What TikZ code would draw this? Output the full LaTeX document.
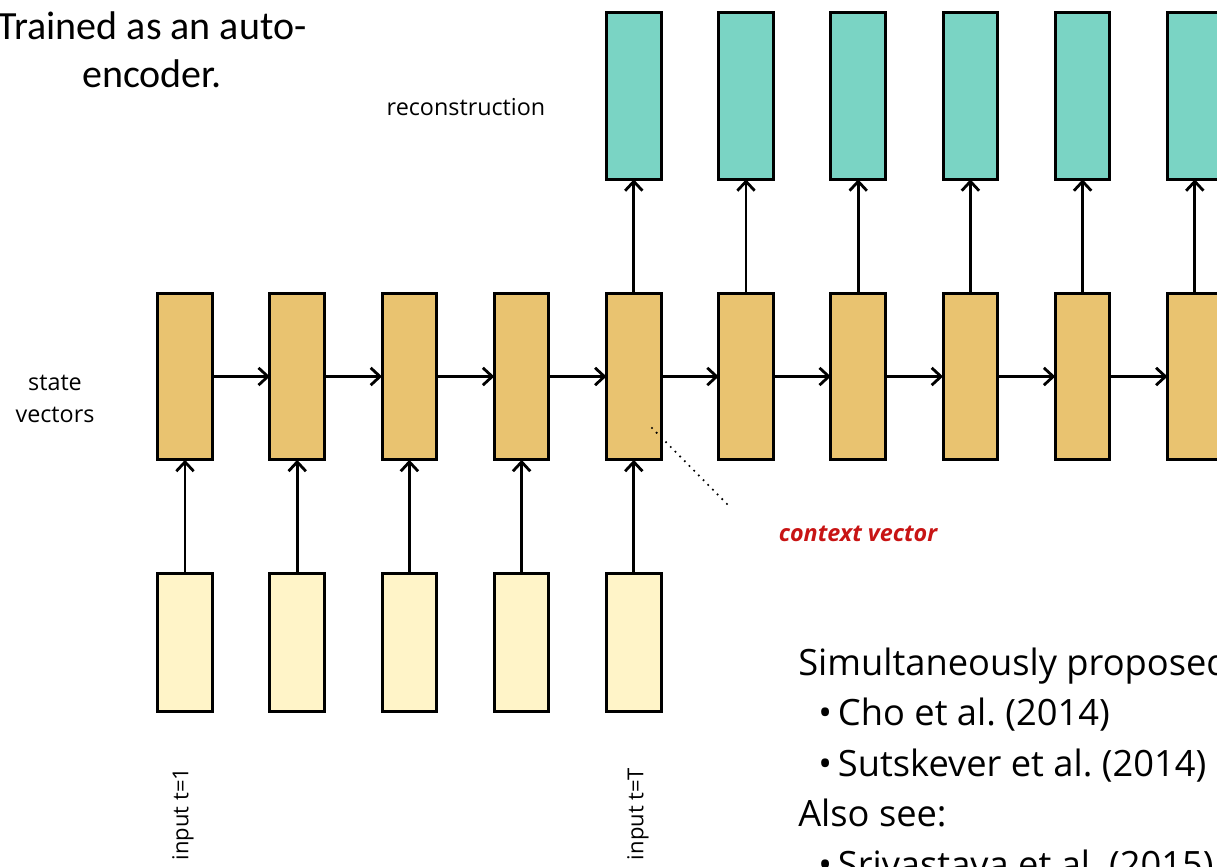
\documentclass[tikz,border=0pt]{standalone}
\usepackage{fontspec}
\setmainfont{Open Sans}
\newfontfamily\calfont{Carlito}
\usetikzlibrary{arrows.meta}
\definecolor{inputfill}{RGB}{255,244,200}
\definecolor{statefill}{RGB}{233,195,112}
\definecolor{reconfill}{RGB}{122,212,196}
\definecolor{ctxred}{RGB}{200,20,20}
\tikzset{
  cell/.style={draw=black, line width=2.2pt, minimum width=41pt, minimum height=#1, inner sep=0pt, outer sep=0pt},
  inbox/.style={cell=104pt, fill=inputfill},
  statebox/.style={cell=125pt, fill=statefill},
  reconbox/.style={cell=125pt, fill=reconfill},
  flow/.style={line width=2.1pt, -{Straight Barb[length=7pt, width=13pt, line width=2.1pt]}},
  small/.style={font=\fontsize{17.5}{20}\selectfont, align=center, inner sep=0pt},
  big/.style={font=\fontsize{27.2}{34}\selectfont, inner sep=0pt, anchor=base west}
}
\begin{document}
\begin{tikzpicture}[x=0.75pt, y=-0.75pt]
\useasboundingbox (0,0) rectangle (1217,867);
\clip (0,0) rectangle (1217,867);
% state vectors
\foreach \i in {1,...,10} {
  \node[statebox] (s\i) at ({185+112.2*(\i-1)}, 376.5) {};
}
% inputs
\foreach \i in {1,...,5} {
  \node[inbox] (x\i) at ({185+112.2*(\i-1)}, 642.5) {};
  \draw[flow] (x\i.north) -- (s\i.south);
}
% reconstruction
\foreach \i in {5,...,10} {
  \node[reconbox] (r\i) at ({185+112.2*(\i-1)}, 96) {};
  \draw[flow] (s\i.north) -- (r\i.south);
}
% recurrence
\foreach \i [evaluate=\i as \j using int(\i+1)] in {1,...,9} {
  \draw[flow] (s\i.east) -- (s\j.west);
}
% context vector pointer
\coordinate (ctxstart) at (652,428);
\coordinate (ctxend) at (730,507);
\draw[line width=1.8pt, line cap=round, dash pattern=on 0pt off 5pt] (ctxstart) -- (ctxend);
\node[small, font=\fontsize{17.5}{20}\selectfont\bfseries\itshape, text=ctxred] (ctx) at (858,534) {context vector};
% labels
\node[small] (rec) at (466,107) {reconstruction};
\node[small] (sv) at (55,399) {state\\[4pt]vectors};
\node[small, font=\fontsize{16.5}{20}\selectfont, rotate=90] (in1) at (183,814) {input t=1};
\node[small, font=\fontsize{16.5}{20}\selectfont, rotate=90] (inT) at (638,814) {input t=T};
% text blocks
\node[font=\calfont\fontsize{30}{36}\selectfont, align=center, inner sep=0pt] (title) at (152,50) {Trained as an auto-\\encoder.};
\node[big] (t1) at (798,675) {Simultaneously proposed:};
\node[big] (t2) at (818,725) {\textbullet\,Cho et al.\ (2014)};
\node[big] (t3) at (818,776) {\textbullet\,Sutskever et al.\ (2014)};
\node[big] (t4) at (798,826) {Also see:};
\node[big] (t5) at (818,877) {\textbullet\,Srivastava et al.\ (2015)};
\end{tikzpicture}
\end{document}
